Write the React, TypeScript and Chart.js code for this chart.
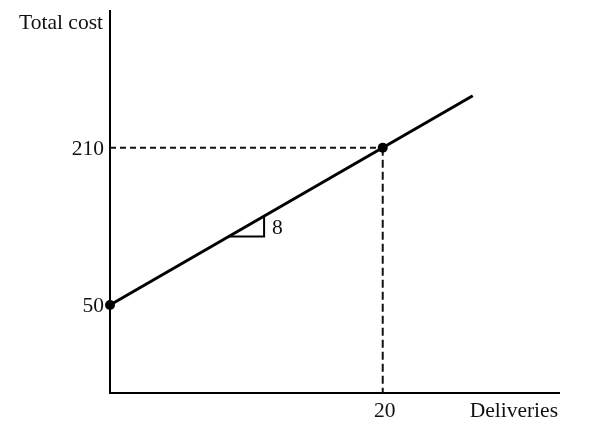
import React, { useEffect, useRef } from "react";
import { Chart, registerables } from "chart.js";

Chart.register(...registerables);

const lineX = [0, 26.6];
const lineY = [50, 262.8];
const pointX = [0, 20];
const pointY = [50, 210];
const triX = [8.7, 11.3, 11.3];
const triY = [119.6, 119.6, 140.4];
const slopeLabel = "8";
const yTickValues = [50, 210];
const yTickLabels = ["50", "210"];
const xTickValues = [20];
const xTickLabels = ["20"];
const xTitle = "Deliveries";
const yTitle = "Total cost";

const X_MIN = 0;
const X_MAX = 33.0;
const Y_MIN = -39.5;
const Y_MAX = 350;

const FONT = '21.5px "Liberation Serif", "DejaVu Serif", serif';

const textPlugin = {
  id: "texts",
  afterDatasetsDraw(chart: any) {
    const { ctx, scales, chartArea } = chart;
    const xs = scales.x;
    const ys = scales.y;
    ctx.save();
    ctx.fillStyle = "#111";
    ctx.font = FONT;
    ctx.textBaseline = "alphabetic";
    ctx.textAlign = "right";
    yTickValues.forEach((v, i) => {
      ctx.fillText(yTickLabels[i], chartArea.left - 6, ys.getPixelForValue(v) + 7);
    });
    ctx.textAlign = "center";
    xTickValues.forEach((v, i) => {
      ctx.fillText(xTickLabels[i], xs.getPixelForValue(v) + 2, chartArea.bottom + 24);
    });
    ctx.textAlign = "right";
    ctx.fillText(xTitle, chartArea.right - 2, chartArea.bottom + 24);
    ctx.fillText(yTitle, chartArea.left - 7, chartArea.top + 19);
    ctx.textAlign = "left";
    const sx = xs.getPixelForValue(triX[1]);
    const sy = (ys.getPixelForValue(triY[1]) + ys.getPixelForValue(triY[2])) / 2;
    ctx.fillText(slopeLabel, sx + 8, sy + 8);
    ctx.restore();
  },
};

export default function App() {
  const ref = useRef<HTMLCanvasElement>(null);
  useEffect(() => {
    document.body.style.margin = "0";
    const c = ref.current!;
    const toPts = (xs: number[], ys: number[]) => xs.map((x, i) => ({ x, y: ys[i] }));
    const chart = new Chart(c, {
      type: "scatter",
      data: {
        datasets: [
          {
            data: toPts(pointX, pointY),
            showLine: false,
            pointRadius: 5,
            pointBackgroundColor: "#000",
            pointBorderWidth: 0,
            clip: false,
            order: 0,
          } as any,
          {
            data: toPts(lineX, lineY),
            showLine: true,
            borderColor: "#000",
            borderWidth: 3,
            pointRadius: 0,
            clip: false,
            order: 1,
          },
          {
            data: toPts(triX, triY),
            showLine: true,
            borderColor: "#000",
            borderWidth: 2,
            pointRadius: 0,
            clip: false,
            order: 2,
          },
          {
            data: [
              { x: X_MIN, y: pointY[1] },
              { x: pointX[1], y: pointY[1] },
            ],
            showLine: true,
            borderColor: "#111",
            borderWidth: 2,
            borderDash: [6, 4],
            pointRadius: 0,
            clip: false,
            order: 3,
          },
          {
            data: [
              { x: pointX[1], y: pointY[1] },
              { x: pointX[1], y: Y_MIN },
            ],
            showLine: true,
            borderColor: "#111",
            borderWidth: 2,
            borderDash: [8, 4],
            pointRadius: 0,
            clip: false,
            order: 3,
          },
          {
            data: [
              { x: X_MIN, y: Y_MAX },
              { x: X_MIN, y: Y_MIN },
              { x: X_MAX, y: Y_MIN },
            ],
            showLine: true,
            borderColor: "#000",
            borderWidth: 2,
            pointRadius: 0,
            clip: false,
            order: 4,
          },
        ],
      },
      options: {
        animation: false,
        responsive: false,
        events: [],
        layout: { padding: { left: 110, right: 29, top: 10, bottom: 40 } },
        plugins: { legend: { display: false }, tooltip: { enabled: false } },
        scales: {
          x: { type: "linear", min: X_MIN, max: X_MAX, display: false },
          y: { type: "linear", min: Y_MIN, max: Y_MAX, display: false },
        },
        elements: { line: { borderCapStyle: "butt" } },
      },
      plugins: [textPlugin],
    });
    return () => chart.destroy();
  }, []);
  return (
    <div style={{ width: 589, height: 433, background: "#fff" }}>
      <canvas ref={ref} width={589} height={433} style={{ display: "block" }} />
    </div>
  );
}
